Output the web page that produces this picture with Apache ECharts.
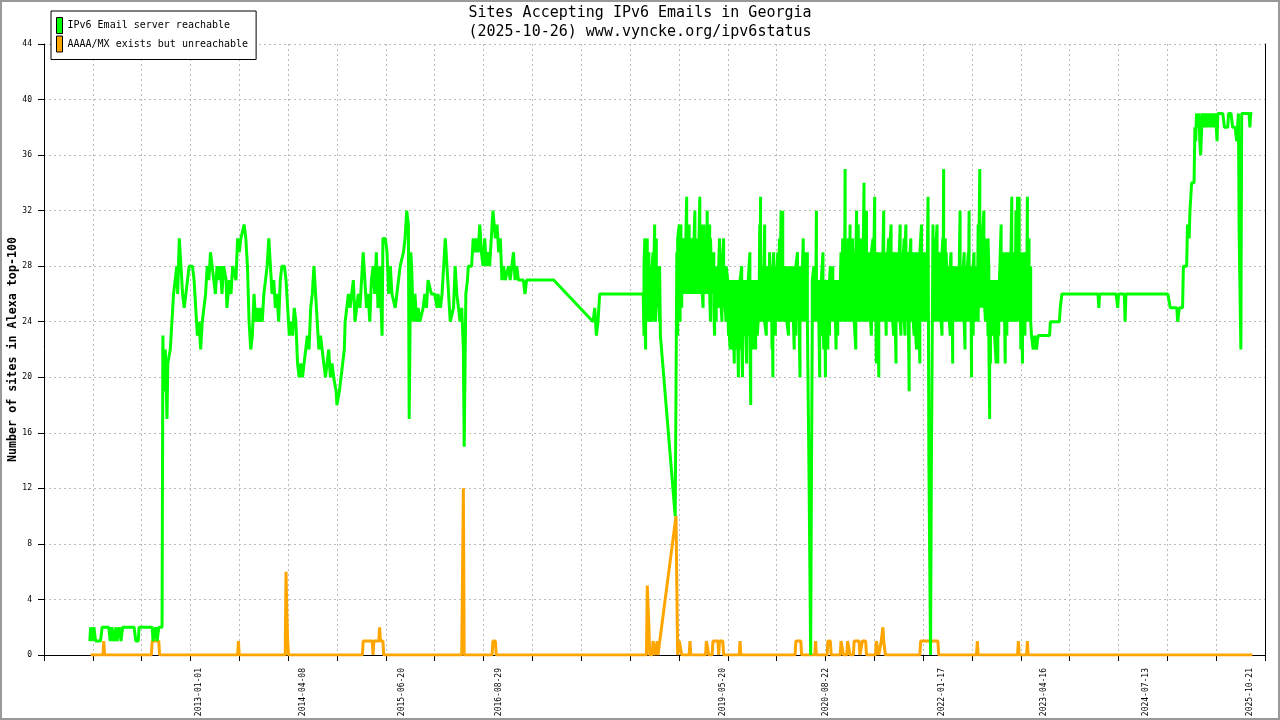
<!DOCTYPE html>
<html>
<head>
<meta charset="utf-8">
<script src="https://cdn.jsdelivr.net/npm/echarts@6.0.0/dist/echarts.min.js"></script>
<style>
  html, body { margin: 0; padding: 0; background: #fff; }
  #chart { width: 1280px; height: 720px; }
</style>
</head>
<body>
<div id="chart"></div>
<script>
// dates are decimal years, values are number of sites
// (in the dense years each date carries two readings: the spike and the other edge of the band)
var reachableEarly = [
  [2011.67,1],[2011.68,2],[2011.70,1],[2011.72,2],[2011.74,1],[2011.80,1],[2011.82,2],[2011.90,2],[2011.92,1],[2011.94,2],[2011.96,1],[2011.99,2],
  [2012.00,1],[2012.03,2],[2012.05,1],[2012.07,2],[2012.21,2],[2012.23,1],[2012.26,1],[2012.27,2],[2012.43,2],[2012.44,1],[2012.47,2],[2012.49,1],[2012.51,2],[2012.55,2],
  [2012.56,23],[2012.57,19],[2012.59,22],[2012.61,17],[2012.62,21],[2012.65,22],[2012.67,24],[2012.69,26],[2012.71,27],[2012.73,28],[2012.74,26],[2012.76,30],
  [2012.78,28],[2012.80,26],[2012.82,25],[2012.84,26],[2012.86,27],[2012.88,28],[2012.92,28],[2012.94,27],[2012.96,25],[2012.98,23],
  [2013.00,24],[2013.02,22],[2013.04,24],[2013.06,25],[2013.08,26],[2013.10,28],[2013.12,27],[2013.14,29],[2013.16,28],[2013.18,27],[2013.20,26],[2013.22,28],
  [2013.24,27],[2013.26,28],[2013.28,26],[2013.30,28],[2013.33,27],[2013.34,25],[2013.37,27],[2013.39,26],[2013.41,28],[2013.43,28],[2013.45,27],[2013.47,30],
  [2013.49,29],[2013.51,30],[2013.53,30],[2013.55,31],[2013.57,30],[2013.59,28],[2013.61,24],[2013.63,22],[2013.65,23],[2013.67,26],[2013.69,24],[2013.71,25],
  [2013.73,24],[2013.75,25],[2013.77,24],[2013.79,26],[2013.81,27],[2013.83,28],[2013.85,30],[2013.87,30],[2013.89,26],[2013.91,27],[2013.93,25],[2013.95,26],
  [2013.97,24],[2013.99,27],
  [2014.01,28],[2014.04,28],[2014.06,27],[2014.08,25],[2014.10,23],[2014.12,24],[2014.14,23],[2014.16,25],[2014.18,24],[2014.20,21],[2014.22,20],[2014.24,21],
  [2014.26,20],[2014.28,21],[2014.30,22],[2014.32,23],[2014.34,22],[2014.36,25],[2014.38,26],[2014.40,28],[2014.42,26],[2014.44,24],[2014.46,22],[2014.48,23],
  [2014.50,22],[2014.52,21],[2014.54,20],[2014.56,21],[2014.58,22],[2014.60,20],[2014.62,21],[2014.64,20],[2014.67,19],[2014.68,18],[2014.71,19],[2014.73,20],
  [2014.75,21],[2014.77,22],[2014.78,24],[2014.80,25],[2014.82,26],[2014.84,25],[2014.86,26],[2014.88,27],[2014.90,24],[2014.92,24],[2014.94,26],[2014.96,25],
  [2014.98,27],
  [2015.00,29],[2015.02,27],[2015.04,25],[2015.06,26],[2015.08,24],[2015.10,27],[2015.12,28],[2015.14,26],[2015.16,29],[2015.18,25],[2015.20,28],[2015.23,23],
  [2015.24,30],[2015.27,30],[2015.29,29],[2015.31,26],[2015.33,28],[2015.35,26],[2015.37,26],[2015.39,25],[2015.41,26],[2015.43,26],[2015.45,28],[2015.47,28],
  [2015.49,29],[2015.51,30],[2015.53,32],[2015.55,31],[2015.56,17],[2015.58,29],[2015.59,28],[2015.61,24],[2015.63,26],[2015.65,24],[2015.67,25],[2015.69,24],
  [2015.71,24],[2015.73,25],[2015.75,26],[2015.77,25],[2015.79,27],[2015.81,27],[2015.83,26],[2015.87,26],[2015.90,25],[2015.91,26],[2015.94,25],[2015.96,26],
  [2015.98,28],
  [2016.00,30],[2016.02,28],[2016.04,26],[2016.06,24],[2016.08,24],[2016.10,25],[2016.12,28],[2016.14,26],[2016.16,25],[2016.18,24],[2016.20,25],[2016.22,22],
  [2016.23,15],[2016.25,26],[2016.27,27],[2016.28,28],[2016.32,28],[2016.34,30],[2016.36,29],[2016.38,30],[2016.40,29],[2016.42,31],[2016.44,29],[2016.46,28],
  [2016.48,30],[2016.50,28],[2016.52,29],[2016.54,28],[2016.56,30],[2016.58,32],[2016.61,30],[2016.63,31],[2016.65,29],[2016.67,30],[2016.69,27],[2016.71,28],
  [2016.73,27],[2016.75,27],[2016.77,28],[2016.79,27],[2016.83,29],[2016.85,27],[2016.87,28],[2016.89,27],[2016.95,27],[2016.97,26],[2016.99,27],
  [2017.32,27],[2017.80,24],[2017.82,25],[2017.84,23],[2017.86,24],[2017.88,26],[2018.41,26]
];

var reachable2018 = [
  [2018.42,23],[2018.42,28],[2018.43,30],[2018.43,25],[2018.44,22],[2018.44,28],[2018.46,30],[2018.46,25],[2018.47,24],[2018.47,28],[2018.48,29],[2018.48,25],
  [2018.50,24],[2018.50,28],[2018.51,28],[2018.51,25],[2018.52,24],[2018.52,28],[2018.53,29],[2018.53,25],[2018.55,31],[2018.55,25],[2018.56,24],[2018.56,28],
  [2018.57,30],[2018.57,25],[2018.58,25],[2018.58,28],[2018.60,28],[2018.60,25],[2018.61,24],[2018.61,28],[2018.62,23],
  [2018.80,10],[2018.81,19],
  [2018.82,29],[2018.82,26],[2018.83,23],[2018.83,30],[2018.85,31],[2018.85,26],[2018.86,24],[2018.86,30],[2018.87,31],[2018.87,26],[2018.88,25],[2018.88,30],
  [2018.89,29],[2018.89,26],[2018.91,26],[2018.91,30],[2018.92,30],[2018.92,26],[2018.93,27],[2018.93,30],[2018.94,33],[2018.94,26],[2018.96,26],[2018.96,30],
  [2018.97,31],[2018.97,26],[2018.98,27],[2018.98,30],[2018.99,29],[2018.99,26]
];

var reachable2019 = [
  [2019.01,26],[2019.01,30],[2019.02,30],[2019.02,26],[2019.03,26],[2019.03,30],[2019.04,32],[2019.04,26],[2019.06,28],[2019.06,26],[2019.07,26],[2019.07,30],
  [2019.08,30],[2019.08,26],[2019.09,26],[2019.09,30],[2019.10,33],[2019.10,26],[2019.12,28],[2019.12,26],[2019.13,31],[2019.13,26],[2019.14,25],[2019.14,30],
  [2019.15,31],[2019.15,26],[2019.17,26],[2019.17,30],[2019.18,30],[2019.18,26],[2019.19,32],[2019.19,26],[2019.20,27],[2019.20,30],[2019.22,31],[2019.22,26],
  [2019.23,24],[2019.23,30],[2019.24,28],[2019.24,26],
  [2019.25,26],[2019.25,28],[2019.27,29],[2019.27,25],[2019.28,23],[2019.28,28],[2019.29,27],[2019.29,25],[2019.30,24],[2019.30,28],[2019.31,28],[2019.31,25],
  [2019.33,25],[2019.33,28],[2019.34,30],[2019.34,25],[2019.35,25],[2019.35,28],[2019.36,29],[2019.36,25],[2019.37,24],[2019.37,28],[2019.39,30],[2019.39,25],
  [2019.40,26],[2019.40,28],[2019.41,28],[2019.41,25],[2019.42,24],[2019.42,28],[2019.44,27],[2019.44,25],
  [2019.45,23],[2019.45,27],[2019.46,26],[2019.46,23],[2019.47,22],[2019.47,27],[2019.48,25],[2019.48,23],[2019.50,22],[2019.50,27],[2019.51,26],[2019.51,23],
  [2019.52,21],[2019.52,27],[2019.53,25],[2019.53,23],[2019.55,22],[2019.55,27],[2019.56,26],[2019.56,23],[2019.57,20],[2019.57,27],[2019.58,25],[2019.58,23],
  [2019.59,22],[2019.59,27],[2019.61,28],[2019.61,23],[2019.62,20],[2019.62,27],[2019.63,27],[2019.63,23],[2019.64,23],[2019.64,27],[2019.66,26],[2019.66,23],
  [2019.67,21],[2019.67,27],[2019.68,25],[2019.68,23],[2019.69,23],[2019.69,27],[2019.71,29],[2019.71,23],[2019.72,18],[2019.72,27],[2019.74,25],[2019.74,23],
  [2019.75,22],[2019.75,27],[2019.76,27],[2019.76,23],[2019.77,23],[2019.77,27],[2019.78,22],[2019.78,27],[2019.80,27],[2019.80,23],[2019.81,24],[2019.81,27],
  [2019.82,26],[2019.82,24],[2019.83,31],[2019.83,24],[2019.84,33],[2019.84,24],[2019.86,24],[2019.86,28],[2019.87,27],[2019.87,24],[2019.88,25],[2019.88,28],
  [2019.89,31],[2019.89,24],[2019.91,23],[2019.91,28],[2019.92,27],[2019.92,24],[2019.93,24],[2019.93,28],[2019.94,26],[2019.94,24],[2019.95,29],[2019.95,24],
  [2019.97,24],[2019.97,28],[2019.98,22],[2019.98,28],[2019.99,20],[2019.99,28]
];

var reachable2020 = [
  [2020.00,29],[2020.00,24],[2020.02,23],[2020.02,28],[2020.03,26],[2020.03,24],[2020.04,24],[2020.04,28],[2020.05,29],[2020.05,24],[2020.07,30],[2020.07,24],
  [2020.08,24],[2020.08,28],[2020.09,32],[2020.09,24],[2020.10,28],[2020.10,24],[2020.11,32],[2020.11,24],[2020.13,24],[2020.13,28],[2020.14,27],[2020.14,24],
  [2020.15,25],[2020.15,28],[2020.16,28],[2020.16,24],[2020.18,23],[2020.18,28],[2020.19,26],[2020.19,24],[2020.20,24],[2020.20,28],[2020.21,28],[2020.21,24],
  [2020.23,25],[2020.23,28],[2020.24,28],[2020.24,24],[2020.25,22],[2020.25,28],[2020.26,25],[2020.26,28],[2020.27,23],[2020.27,28],[2020.29,29],[2020.29,24],
  [2020.30,24],[2020.30,28],[2020.31,26],[2020.31,24],[2020.32,20],[2020.32,28],[2020.34,27],[2020.34,24],[2020.35,24],[2020.35,28],[2020.36,30],[2020.36,24],
  [2020.37,26],[2020.37,24],[2020.38,29],[2020.38,24],[2020.40,24],[2020.40,28],[2020.41,29],[2020.41,24],[2020.42,24],
  [2020.43,13],[2020.45,0],[2020.46,13],
  [2020.47,24],[2020.47,27],[2020.49,28],[2020.49,24],[2020.50,25],[2020.50,27],[2020.51,27],[2020.51,24],[2020.52,32],[2020.52,24],[2020.54,24],[2020.54,27],
  [2020.55,27],[2020.55,24],[2020.56,20],[2020.56,27],[2020.57,26],[2020.57,24],[2020.58,23],[2020.58,27],[2020.60,29],[2020.60,24],[2020.61,22],[2020.61,27],
  [2020.62,25],[2020.62,27],[2020.63,20],[2020.63,27],[2020.65,26],[2020.65,24],[2020.66,22],[2020.66,27],[2020.67,25],[2020.67,27],[2020.68,23],[2020.68,27],
  [2020.69,28],[2020.69,24],[2020.71,26],[2020.71,24],[2020.72,28],[2020.72,24],[2020.73,24],[2020.73,27],[2020.74,25],[2020.74,27],[2020.76,22],[2020.76,27],
  [2020.77,26],[2020.77,24],[2020.78,23],[2020.78,27],[2020.79,27],[2020.79,24],[2020.80,26],[2020.80,24],[2020.82,29],[2020.82,24],
  [2020.83,27],[2020.83,24],[2020.84,30],[2020.84,24],[2020.85,27],[2020.85,24],[2020.86,29],[2020.86,24],[2020.87,35],[2020.87,24],[2020.89,27],[2020.89,24],
  [2020.90,26],[2020.90,29],[2020.91,30],[2020.91,24],[2020.92,28],[2020.92,24],[2020.93,31],[2020.93,24],[2020.95,27],[2020.95,24],[2020.96,30],[2020.96,24],
  [2020.97,24],[2020.97,29],[2020.98,28],[2020.98,24]
];

var reachable2021 = [
  [2021.00,22],[2021.00,29],[2021.01,32],[2021.01,24],[2021.02,25],[2021.02,29],[2021.03,31],[2021.03,24],[2021.05,24],[2021.05,29],[2021.06,30],[2021.06,24],
  [2021.07,27],[2021.07,24],[2021.08,29],[2021.08,24],[2021.10,34],[2021.10,24],[2021.11,24],[2021.11,29],[2021.12,30],[2021.12,24],[2021.13,32],[2021.13,24],
  [2021.14,24],[2021.14,29],[2021.16,29],[2021.16,24],[2021.17,26],[2021.17,29],[2021.18,28],[2021.18,24],[2021.19,23],[2021.19,29],[2021.21,30],[2021.21,24],
  [2021.22,25],[2021.22,29],[2021.23,33],[2021.23,24],[2021.24,26],[2021.24,29],[2021.25,21],[2021.25,29],[2021.27,28],[2021.27,24],[2021.28,20],[2021.28,29],
  [2021.29,27],[2021.29,24],[2021.30,24],[2021.30,29],[2021.32,29],[2021.32,24],[2021.33,25],[2021.33,29],[2021.34,32],[2021.34,24],[2021.35,24],[2021.35,29],
  [2021.37,23],[2021.37,29],[2021.38,28],[2021.38,24],[2021.39,25],[2021.39,29],[2021.40,30],[2021.40,24],[2021.41,26],[2021.41,29],[2021.43,31],[2021.43,24],
  [2021.44,24],[2021.44,29],[2021.45,29],[2021.45,24],[2021.46,23],[2021.46,29],[2021.48,28],[2021.48,24],[2021.49,21],[2021.49,29],[2021.50,26],[2021.50,29],
  [2021.51,29],[2021.51,24],[2021.53,24],[2021.53,29],[2021.54,31],[2021.54,24],[2021.55,23],[2021.55,29],[2021.56,27],[2021.56,24],[2021.58,25],[2021.58,29],
  [2021.59,30],[2021.59,24],[2021.60,23],[2021.60,29],[2021.61,31],[2021.61,24],[2021.62,25],[2021.62,29],[2021.64,28],[2021.64,24],[2021.65,19],[2021.65,29],
  [2021.66,24],[2021.66,29],[2021.67,30],[2021.67,24],[2021.69,24],[2021.69,29],[2021.70,29],[2021.70,24],[2021.71,23],[2021.71,29],[2021.72,27],[2021.72,24],
  [2021.74,22],[2021.74,29],[2021.75,26],[2021.75,29],[2021.76,23],[2021.76,29],[2021.77,28],[2021.77,24],[2021.78,21],[2021.78,29],[2021.80,31],[2021.80,24],
  [2021.81,24],[2021.81,29],[2021.82,29],[2021.82,24],[2021.83,24],[2021.83,29],[2021.85,28],[2021.85,24],[2021.86,27],[2021.86,24],[2021.88,33],
  [2021.89,14],[2021.91,0],[2021.92,13],
  [2021.94,31],[2021.94,24],[2021.95,26],[2021.95,29],[2021.96,30],[2021.96,24],[2021.97,24],[2021.97,29],[2021.99,31],[2021.99,24]
];

var reachable2022 = [
  [2022.00,26],[2022.00,29],[2022.01,29],[2022.01,24],[2022.02,24],[2022.02,29],[2022.04,28],[2022.04,24],[2022.05,23],[2022.05,29],[2022.06,30],[2022.06,24],
  [2022.07,35],[2022.07,24],[2022.08,26],[2022.08,29],[2022.09,30],[2022.09,24],[2022.10,25],[2022.10,29],[2022.11,27],[2022.11,24],
  [2022.12,24],[2022.12,28],[2022.14,27],[2022.14,24],[2022.15,23],[2022.15,28],[2022.16,29],[2022.16,24],[2022.17,25],[2022.17,28],[2022.18,21],[2022.18,28],
  [2022.20,27],[2022.20,24],[2022.21,25],[2022.21,28],[2022.22,26],[2022.22,24],[2022.23,24],[2022.23,28],[2022.25,27],[2022.25,24],[2022.26,25],[2022.26,28],
  [2022.27,32],[2022.27,24],[2022.28,24],[2022.28,28],[2022.30,28],[2022.30,24],[2022.31,25],[2022.31,28],[2022.32,29],[2022.32,24],[2022.33,22],[2022.33,28],
  [2022.35,28],[2022.35,24],[2022.36,24],[2022.36,28],[2022.37,29],[2022.37,24],[2022.38,32],[2022.38,24],[2022.40,24],[2022.40,28],[2022.41,20],[2022.41,28],
  [2022.42,26],[2022.42,24],[2022.43,23],[2022.43,28],[2022.44,29],[2022.44,24],[2022.46,25],[2022.46,28],[2022.47,28],[2022.47,24],[2022.48,26],[2022.48,24],
  [2022.49,31],[2022.49,24],
  [2022.51,35],[2022.51,25],[2022.52,25],[2022.52,30],[2022.53,29],[2022.53,25],[2022.54,25],[2022.54,30],[2022.56,32],[2022.56,25],[2022.57,28],[2022.57,25],
  [2022.58,24],[2022.58,30],[2022.59,27],[2022.59,30],[2022.61,23],[2022.61,30],
  [2022.62,28],[2022.62,23],[2022.63,17],[2022.63,27],[2022.64,21],[2022.64,27],[2022.66,23],[2022.66,27],[2022.67,26],[2022.67,23],[2022.68,23],[2022.68,27],
  [2022.69,27],[2022.69,23],[2022.71,21],[2022.71,27],[2022.72,25],[2022.72,23],[2022.73,21],[2022.73,27],[2022.74,26],[2022.74,23],[2022.75,23],[2022.75,27],
  [2022.77,31],[2022.77,24],[2022.78,24],[2022.78,29],[2022.79,28],[2022.79,24],[2022.80,25],[2022.80,29],[2022.82,21],[2022.82,29],[2022.83,26],[2022.83,29],
  [2022.84,23],[2022.84,29],[2022.85,29],[2022.85,24],[2022.87,25],[2022.87,29],[2022.88,28],[2022.88,24],[2022.89,26],[2022.89,29],[2022.90,33],[2022.90,24],
  [2022.92,27],[2022.92,24],[2022.93,26],[2022.93,29],[2022.94,28],[2022.94,24],[2022.95,32],[2022.95,24],[2022.97,33],[2022.97,24],[2022.98,26],[2022.98,29],
  [2022.99,33],[2022.99,24]
];

var reachableLate = [
  [2023.00,25],[2023.00,29],[2023.01,22],[2023.01,29],[2023.03,21],[2023.03,29],[2023.04,26],[2023.04,29],[2023.05,27],[2023.05,24],[2023.06,23],[2023.06,29],
  [2023.08,27],[2023.08,24],[2023.09,33],[2023.09,24],[2023.10,26],[2023.10,29],[2023.11,30],[2023.11,24],[2023.13,28],[2023.13,24],[2023.14,23],
  [2023.16,22],[2023.18,23],[2023.20,22],[2023.22,23],[2023.36,23],[2023.37,24],[2023.48,24],[2023.49,25],[2023.51,26],[2023.95,26],[2023.96,25],[2023.97,26],
  [2024.17,26],[2024.19,25],[2024.20,26],[2024.27,26],[2024.28,24],[2024.29,26],[2024.80,26],[2024.83,25],[2024.91,25],[2024.92,24],[2024.94,25],[2024.98,25],
  [2024.99,28],[2025.03,28],[2025.04,31],[2025.06,30],[2025.07,32],[2025.09,34],[2025.12,34],[2025.13,38],[2025.14,37],[2025.15,39],[2025.17,38],[2025.18,39],
  [2025.19,37],[2025.20,36],[2025.22,39],[2025.23,38],[2025.24,39],[2025.25,38],[2025.27,39],[2025.28,38],[2025.29,39],[2025.30,38],[2025.31,39],[2025.33,38],
  [2025.34,39],[2025.36,38],[2025.38,39],[2025.40,37],[2025.41,39],[2025.47,39],[2025.49,38],[2025.53,38],[2025.54,39],[2025.57,39],[2025.59,38],[2025.62,38],
  [2025.64,37],[2025.66,39],[2025.67,30],[2025.69,22],[2025.70,39],[2025.79,39],[2025.80,38],[2025.81,39],[2025.83,39]
];

var unreachable = [
  [2011.68,0],[2011.83,0],[2011.84,1],[2011.85,0],
  [2012.42,0],[2012.43,1],[2012.51,1],[2012.52,0],
  [2013.47,0],[2013.48,1],[2013.49,0],
  [2014.05,0],[2014.06,6],[2014.07,3],[2014.08,1],[2014.09,0],
  [2014.99,0],[2015.00,1],[2015.11,1],[2015.12,0],[2015.13,1],[2015.19,1],[2015.20,2],[2015.21,1],[2015.24,1],[2015.25,0],
  [2016.20,0],[2016.21,6],[2016.22,12],[2016.23,0],
  [2016.57,0],[2016.58,1],[2016.61,1],[2016.62,0],
  [2018.45,0],[2018.46,5],[2018.48,2],[2018.49,0],[2018.52,0],[2018.53,1],[2018.55,1],[2018.56,0],[2018.57,0],[2018.58,1],[2018.59,0],
  [2018.61,0],[2018.81,10],[2018.82,5],[2018.83,0],
  [2018.85,1],[2018.87,1],[2018.88,0],
  [2018.97,0],[2018.98,1],[2018.99,0],
  [2019.17,0],[2019.18,1],[2019.20,1],[2019.21,0],
  [2019.25,0],[2019.26,1],[2019.32,1],[2019.33,0],[2019.34,1],[2019.38,1],[2019.39,0],
  [2019.58,0],[2019.59,1],[2019.60,0],
  [2020.26,0],[2020.27,1],[2020.33,1],[2020.34,0],
  [2020.50,0],[2020.51,1],[2020.52,0],
  [2020.65,0],[2020.66,1],[2020.69,1],[2020.70,0],
  [2020.81,0],[2020.82,1],[2020.84,1],[2020.85,0],
  [2020.89,0],[2020.90,1],[2020.92,1],[2020.93,0],
  [2020.97,0],[2020.98,1],[2021.04,1],[2021.05,0],
  [2021.07,0],[2021.08,1],[2021.12,1],[2021.13,0],
  [2021.24,0],[2021.25,1],[2021.27,1],[2021.28,0],
  [2021.30,0],[2021.31,1],[2021.33,2],[2021.34,1],[2021.35,1],[2021.36,0],
  [2021.78,0],[2021.79,1],[2022.00,1],[2022.01,0],
  [2022.47,0],[2022.48,1],[2022.49,0],
  [2022.97,0],[2022.98,1],[2022.99,0],
  [2023.08,0],[2023.09,1],[2023.10,0],
  [2025.83,0]
];

var labelDates = ['2013-01-01', '2014-04-08', '2015-06-20', '2016-08-29', '2019-05-20',
                  '2020-08-22', '2022-01-17', '2023-04-16', '2024-07-13', '2025-10-21'];

var xMin = 2011.112, xMax = 2025.984;
var tickCount = 25;

function toYear(s) {
  var p = s.split('-');
  var y = +p[0];
  var start = Date.UTC(y, 0, 1), end = Date.UTC(y + 1, 0, 1);
  return y + (Date.UTC(y, +p[1] - 1, +p[2]) - start) / (end - start);
}

var labelYears = labelDates.map(toYear);
var tickYears = [];
for (var k = 0; k <= tickCount; k++) {
  tickYears.push(k === tickCount ? xMax : xMin + k * (xMax - xMin) / tickCount);
}

var reachable = reachableEarly.concat(reachable2018, reachable2019, reachable2020,
                                      reachable2021, reachable2022, reachableLate);

var mono = 'DejaVu Sans Mono';
var green = '#00ff00', orange = '#ffa500';
var gridLine = { show: true, lineStyle: { color: '#bbbbbb', width: 1, type: [2, 3] } };

var chart = echarts.init(document.getElementById('chart'));

var option = {
  backgroundColor: '#ffffff',
  animation: false,
  title: {
    text: 'Sites Accepting IPv6 Emails in Georgia\n(2025-10-26) www.vyncke.org/ipv6status',
    left: 'center',
    top: 3.5,
    padding: 0,
    textStyle: { fontFamily: mono, fontSize: 15, fontWeight: 'normal', color: '#000', lineHeight: 19 }
  },
  legend: {
    orient: 'vertical',
    left: 51,
    top: 11,
    padding: [6, 8, 7, 5],
    itemWidth: 6,
    itemHeight: 16,
    itemGap: 1.5,
    icon: 'rect',
    borderColor: '#000',
    borderWidth: 1,
    borderRadius: 0,
    backgroundColor: '#fff',
    itemStyle: { borderColor: '#000', borderWidth: 1 },
    textStyle: { fontFamily: mono, fontSize: 10, color: '#000' },
    data: ['IPv6 Email server reachable', 'AAAA/MX exists but unreachable']
  },
  grid: { left: 44, right: 15, top: 44, bottom: 65, outerBoundsMode: 'none' },
  xAxis: {
    type: 'value',
    min: xMin,
    max: xMax,
    axisLine: { show: true, lineStyle: { color: '#000', width: 1 } },
    axisTick: { show: true, length: 6, customValues: tickYears, lineStyle: { color: '#000' } },
    axisLabel: {
      customValues: labelYears,
      rotate: 90,
      margin: 13,
      fontFamily: mono,
      fontSize: 8,
      color: '#000',
      formatter: function (v) {
        for (var i = 0; i < labelYears.length; i++) {
          if (Math.abs(labelYears[i] - v) < 1e-6) return labelDates[i];
        }
        return '';
      }
    },
    splitLine: gridLine
  },
  yAxis: [{
    type: 'value',
    min: 0,
    max: 44,
    interval: 4,
    name: 'Number of sites in Alexa top-100',
    nameLocation: 'middle',
    nameGap: 25,
    nameMoveOverlap: false,
    nameTextStyle: { fontFamily: mono, fontSize: 11.7, fontWeight: 'bold', color: '#000' },
    axisLine: { show: true, lineStyle: { color: '#000', width: 1 } },
    axisTick: { show: true, length: 6, lineStyle: { color: '#000' } },
    axisLabel: { fontFamily: mono, fontSize: 8, color: '#000', margin: 12 },
    splitLine: gridLine
  }, {
    type: 'value',
    position: 'right',
    min: 0,
    max: 44,
    interval: 4,
    axisLine: { show: true, lineStyle: { color: '#000', width: 1 } },
    axisTick: { show: false },
    axisLabel: { show: false },
    splitLine: { show: false }
  }],
  series: [{
    name: 'AAAA/MX exists but unreachable',
    type: 'line',
    data: unreachable,
    symbol: 'none',
    itemStyle: { color: orange },
    lineStyle: { color: orange, width: 3, join: 'bevel' }
  }, {
    name: 'IPv6 Email server reachable',
    type: 'line',
    data: reachable,
    symbol: 'none',
    itemStyle: { color: green },
    lineStyle: { color: green, width: 3, join: 'bevel' }
  }],
  graphic: [{
    type: 'rect',
    silent: true,
    shape: { x: 1, y: 1, width: 1278, height: 718 },
    style: { fill: 'none', stroke: '#999999', lineWidth: 2 }
  }]
};

chart.setOption(option);
window.addEventListener('resize', function () {
  chart.resize();
});
</script>
</body>
</html>
